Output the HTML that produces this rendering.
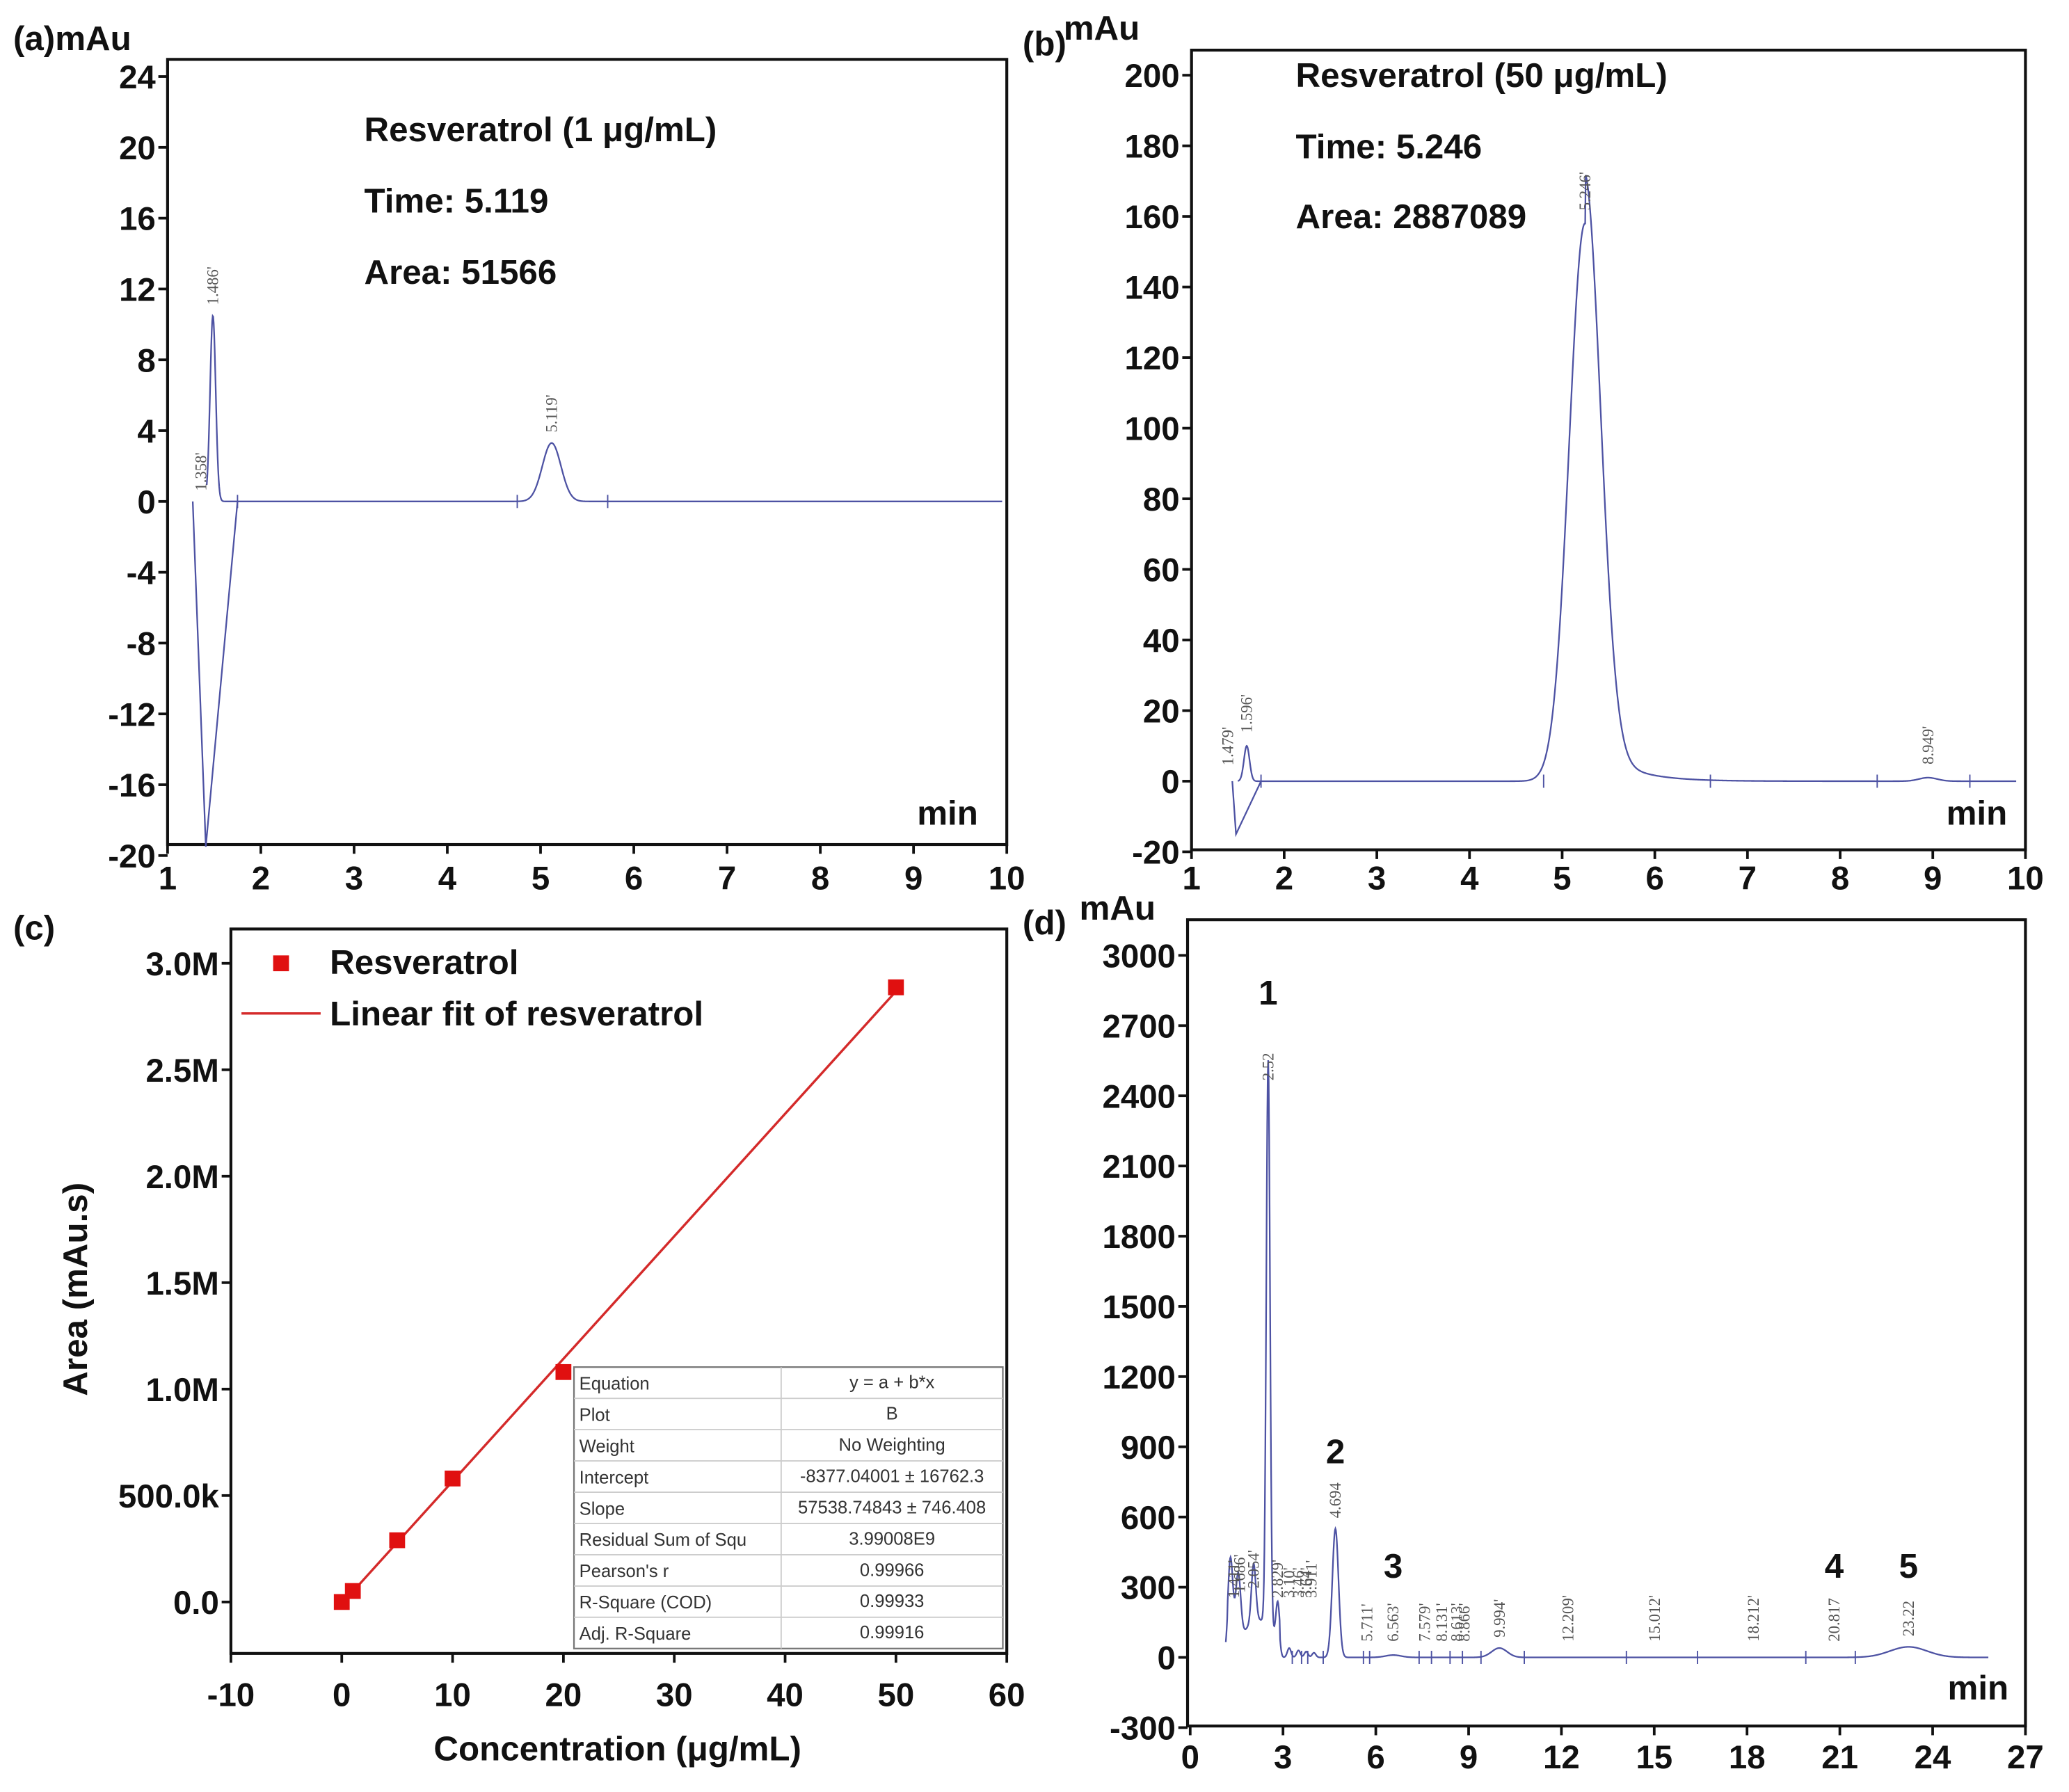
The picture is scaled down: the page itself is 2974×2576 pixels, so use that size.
<!DOCTYPE html>
<html><head><meta charset="utf-8"><style>
html,body{margin:0;padding:0;background:#fff;}
svg{display:block;}
text{font-family:"Liberation Sans",Arial,sans-serif;}
.tk{font-weight:bold;font-size:25px;fill:#111;}
.ann{font-weight:bold;font-size:26px;fill:#111;}
.pl{font-family:"Liberation Serif",serif;font-size:12px;fill:#555;}
.tb{font-size:13.5px;fill:#333;}
</style></head><body>
<svg id="fig" xmlns="http://www.w3.org/2000/svg" width="2974" height="2576" viewBox="0 0 1568 1358" preserveAspectRatio="none">
<g id="pa"></g>
<g id="pb"></g>
<g id="pc"></g>
<g id="pd"></g>
</svg>
<script>
// ---- Panel (a) data ----
const aPeakTimes = [1.486, 5.119];
const aPeakHeights = [10.5, 3.3];
const aPeakWidths = [0.03, 0.1];
const aPeakLabels = ["1.486'", "5.119'"];
const aDipTimes = [1.27, 1.41, 1.75];
const aDipValues = [0, -19.5, 0];
const aYTicks = [24,20,16,12,8,4,0,-4,-8,-12,-16,-20];
const aXTicks = [1,2,3,4,5,6,7,8,9,10];
// ---- Panel (b) data ----
const bPeakTimes = [1.596, 5.246, 8.949];
const bPeakHeights = [10, 158, 1];
const bPeakWidths = [0.03, 0.17, 0.1];
const bTailHeight = 14;
const bPeakLabels = ["1.596'", "5.246'", "8.949'"];
const bDipTimes = [1.44, 1.48, 1.75];
const bDipValues = [0, -15, 0];
const bYTicks = [200,180,160,140,120,100,80,60,40,20,0,-20];
const bXTicks = [1,2,3,4,5,6,7,8,9,10];
// ---- Panel (c) data ----
const cConc = [0, 1, 5, 10, 20, 50];
const cArea = [0, 51566, 290000, 580000, 1080000, 2887089];
const cIntercept = -8377.04;
const cSlope = 57538.75;
const cXTicks = [-10,0,10,20,30,40,50,60];
const cYTicks = [0,500000,1000000,1500000,2000000,2500000,3000000];
const cYTickLabels = ["0.0","500.0k","1.0M","1.5M","2.0M","2.5M","3.0M"];
const cTableKeys = ["Equation","Plot","Weight","Intercept","Slope","Residual Sum of Squ","Pearson's r","R-Square (COD)","Adj. R-Square"];
const cTableVals = ["y = a + b*x","B","No Weighting","-8377.04001 ± 16762.3","57538.74843 ± 746.408","3.99008E9","0.99966","0.99933","0.99916"];
// ---- Panel (d) data ----
const dPeakTimes = [1.3, 1.55, 2.05, 2.52, 2.83, 3.2, 3.5, 3.75, 4.0, 4.694, 6.563, 9.994, 23.22];
const dPeakHeights = [380, 280, 250, 2420, 170, 40, 30, 25, 20, 550, 10, 40, 45];
const dPeakWidths = [0.08, 0.08, 0.07, 0.06, 0.06, 0.06, 0.06, 0.06, 0.06, 0.1, 0.25, 0.25, 0.6];
const dHumpTimes = [1.9, 2.4];
const dHumpHeights = [90, 95];
const dHumpWidths = [0.5, 0.4];
const dLabelTimes = [1.411, 1.6, 2.054, 2.52, 2.829, 3.2, 3.5, 3.75, 3.911, 4.694, 5.711, 6.563, 7.579, 8.131, 8.613, 8.866, 9.994, 12.209, 15.012, 18.212, 20.817, 23.22];
const dLabelTexts = ["1.411'", "1.686'", "2.054'", "2.52", "2.829'", "3.10'", "3.46'", "3.64'", "3.911'", "4.694", "5.711'", "6.563'", "7.579'", "8.131'", "8.613'", "8.866'", "9.994'", "12.209'", "15.012'", "18.212'", "20.817", "23.22"];
const dYTicks = [3000,2700,2400,2100,1800,1500,1200,900,600,300,0,-300];
const dXTicks = [0,3,6,9,12,15,18,21,24,27];
const dCompNums = ["1","2","3","4","5"];
const dCompTimes = [2.52, 4.694, 6.563, 20.817, 23.22];
const dCompY = [2790, 830, 340, 340, 340];

const NS = "http://www.w3.org/2000/svg";
function mk(parent, tag, attrs, txt){
  const e = document.createElementNS(NS, tag);
  for (const k in attrs) e.setAttribute(k, attrs[k]);
  if (txt !== undefined) e.textContent = txt;
  parent.appendChild(e); return e;
}
function lin(d0,d1,r0,r1){ return v => r0 + (v-d0)*(r1-r0)/(d1-d0); }
function gsum(t, T, H, W){ let s=0; for(let i=0;i<T.length;i++){ const z=(t-T[i])/W[i]; s+=H[i]*Math.exp(-0.5*z*z);} return s; }

function frame(g, L, T, R, B, name){
  const r = mk(g,'rect',{x:L,y:T,width:R-L,height:B-T,fill:'none',stroke:'#111','stroke-width':2.2});
  
  
}
function yAxis(g, ticks, labels, y, L){
  ticks.forEach((v,i)=>{
    const yy = y(v);
    const tl = mk(g,'line',{x1:L-7,x2:L,y1:yy,y2:yy,stroke:'#111','stroke-width':2});
    
    
    const t = mk(g,'text',{x:L-9,y:yy+9,'text-anchor':'end','class':'tk'}, labels ? labels[i] : String(v));
    
    
  });
}
function xAxis(g, ticks, x, B, ly){
  ticks.forEach(v=>{
    const xx = x(v);
    const tl = mk(g,'line',{x1:xx,x2:xx,y1:B,y2:B+7,stroke:'#111','stroke-width':2});
    
    
    const t = mk(g,'text',{x:xx,y:ly,'text-anchor':'middle','class':'tk'}, String(v));
    
    
  });
}
function trace(g, t0, t1, x, y, f, name){
  let d=''; const n=1600;
  for(let i=0;i<=n;i++){ const t=t0+(t1-t0)*i/n; d+=(i?'L':'M')+x(t).toFixed(2)+','+y(f(t)).toFixed(2); }
  const p = mk(g,'path',{d:d,fill:'none',stroke:'#4d52a3','stroke-width':1.2});
  
  
}
function poly(g, T, V, x, y, name){
  const d = T.map((t,i)=>(i?'L':'M')+x(t).toFixed(2)+','+y(V[i]).toFixed(2)).join('');
  const p = mk(g,'path',{d:d,fill:'none',stroke:'#4d52a3','stroke-width':1.2});
  
  
}
function peakLabel(g, xx, yy, txt){
  const t = mk(g,'text',{x:0,y:0,'class':'pl',transform:`translate(${xx+4},${yy}) rotate(-90)`}, txt);
  
  
}
function basemarks(g, times, x, y0){
  times.forEach(t=>{ const m=mk(g,'line',{x1:x(t),x2:x(t),y1:y0-5,y2:y0+5,stroke:'#4d52a3','stroke-width':1});
      });
}

// ===== Panel (a) =====
(function(){
  const g = document.getElementById('pa');
  const L=127,R=763,T=45,B=640;
  const x = lin(1,10,127,763), y = lin(0,24,380,58);
  frame(g,L,T,R,B,'panel-a-frame');
  yAxis(g,aYTicks,null,y,L); xAxis(g,aXTicks,x,B,674);
  trace(g,1.42,9.95,x,y,t=>gsum(t,aPeakTimes,aPeakHeights,aPeakWidths),'chromatogram-a');
  poly(g,aDipTimes,aDipValues,x,y,'negative-dip-a');
  basemarks(g,[1.75,4.75,5.72],x,y(0));
  aPeakTimes.forEach((t,i)=>{ const h=gsum(t,aPeakTimes,aPeakHeights,aPeakWidths); peakLabel(g,x(t), y(h)-8, aPeakLabels[i]); });
  peakLabel(g, x(1.358), y(0)-8, "1.358'");
  const lab = mk(g,'text',{x:10,y:38,'class':'ann'},'(a)mAu');  
  [['Resveratrol (1 μg/mL)',107],['Time: 5.119',161],['Area: 51566',215]].forEach(a=>{
    const t=mk(g,'text',{x:276,y:a[1],'class':'ann'},a[0]);   });
  const m=mk(g,'text',{x:695,y:625,'class':'ann'},'min');  
})();

// ===== Panel (b) =====
(function(){
  const g = document.getElementById('pb');
  const L=903,R=1535,T=38,B=644;
  const x = lin(1,10,903,1535), y = lin(0,200,592,57);
  frame(g,L,T,R,B,'panel-b-frame');
  yAxis(g,bYTicks,null,y,L); xAxis(g,bXTicks,x,B,674);
  const f = t=>gsum(t,bPeakTimes,bPeakHeights,bPeakWidths)+ (t>5.25? bTailHeight*Math.exp(-(t-5.25)/0.35):0);
  trace(g,1.50,9.9,x,y,f,'chromatogram-b');
  poly(g,bDipTimes,bDipValues,x,y,'negative-dip-b');
  basemarks(g,[1.75,4.8,6.6,8.4,9.4],x,y(0));
  bPeakTimes.forEach((t,i)=>{ peakLabel(g,x(t), y(f(t))-10, bPeakLabels[i]); });
  peakLabel(g, x(1.479)-6, y(0)-12, "1.479'");
  const l1=mk(g,'text',{x:775,y:42,'class':'ann'},'(b)');  
  const l2=mk(g,'text',{x:806,y:30,'class':'ann'},'mAu');  
  [['Resveratrol (50 μg/mL)',66],['Time: 5.246',120],['Area: 2887089',173]].forEach(a=>{
    const t=mk(g,'text',{x:982,y:a[1],'class':'ann'},a[0]);   });
  const m=mk(g,'text',{x:1475,y:625,'class':'ann'},'min');  
})();

// ===== Panel (c) =====
(function(){
  const g = document.getElementById('pc');
  const L=175,R=763,T=704,B=1253;
  const x = lin(-10,60,175,763), y = lin(0,3000000,1214,730);
  frame(g,L,T,R,B,'panel-c-frame');
  yAxis(g,cYTicks,cYTickLabels,y,L); xAxis(g,cXTicks,x,B,1293);
  const fl = mk(g,'line',{x1:x(0),y1:y(cIntercept),x2:x(50),y2:y(cIntercept+cSlope*50),stroke:'#d42a2a','stroke-width':1.8});
   
  cConc.forEach((c,i)=>{ const s=mk(g,'rect',{x:x(c)-6,y:y(cArea[i])-6,width:12,height:12,fill:'#e01010'});
      });
  const ls=mk(g,'rect',{x:207,y:724,width:12,height:12,fill:'#e01010'});  
  const lt=mk(g,'text',{x:250,y:738,'class':'ann','font-size':'27'},'Resveratrol');  
  const ll=mk(g,'line',{x1:183,x2:243,y1:768,y2:768,stroke:'#d42a2a','stroke-width':1.8});  
  const lt2=mk(g,'text',{x:250,y:777,'class':'ann','font-size':'27'},'Linear fit of resveratrol');  
  const TX=435, TR=760, TY=1036, rh=23.7, cd=592;
  const tb = mk(g,'g',{});  
  mk(tb,'rect',{x:TX,y:TY,width:TR-TX,height:rh*9,fill:'#fff',stroke:'#777','stroke-width':1.2});
  mk(tb,'line',{x1:cd,x2:cd,y1:TY,y2:TY+rh*9,stroke:'#ccc','stroke-width':1});
  cTableKeys.forEach((k,i)=>{
    if(i>0) mk(tb,'line',{x1:TX,x2:TR,y1:TY+rh*i,y2:TY+rh*i,stroke:'#ccc','stroke-width':1});
    const a=mk(tb,'text',{x:TX+4,y:TY+rh*i+17,'class':'tb'},k);  
    const b=mk(tb,'text',{x:676,y:TY+rh*i+16,'class':'tb','text-anchor':'middle'},cTableVals[i]);  
  });
  const l=mk(g,'text',{x:10,y:712,'class':'ann','font-size':'28'},'(c)');  
  const yt=mk(g,'text',{x:0,y:0,'class':'ann','font-size':'31','text-anchor':'middle',transform:'translate(66,977) rotate(-90)'},'Area (mAu.s)');  
  const xt=mk(g,'text',{x:468,y:1334,'class':'ann','font-size':'31','text-anchor':'middle'},'Concentration (μg/mL)');  
})();

// ===== Panel (d) =====
(function(){
  const g = document.getElementById('pd');
  const L=900,R=1535,T=697,B=1308;
  const x = lin(0,27,902,1535), y = lin(0,3000,1256,724);
  frame(g,L,T,R,B,'panel-d-frame');
  yAxis(g,dYTicks,null,y,L); xAxis(g,dXTicks,x,B,1340);
  trace(g,1.15,25.8,x,y,t=>gsum(t,dPeakTimes,dPeakHeights,dPeakWidths)+ (t<2.9? gsum(t,dHumpTimes,dHumpHeights,dHumpWidths):0)*(t<1.2?0:1) ,'chromatogram-d');
  basemarks(g,[3.3,3.6,3.8,4.3,5.6,5.8,7.4,7.8,8.4,8.8,9.4,10.8,14.1,16.4,19.9,21.5],x,y(0));
  dLabelTimes.forEach((t,i)=>{
    const f = gsum(t,dPeakTimes,dPeakHeights,dPeakWidths);
    let yy = y(Math.max(f,0)) - 8;
    if (t > 5 && yy > y(0)-12) yy = y(0)-12;
    if (t <= 5 && yy > y(0)-45) yy = y(0)-45;
    peakLabel(g, x(t), yy, dLabelTexts[i]);
  });
  dCompNums.forEach((n,i)=>{ const t=mk(g,'text',{x:x(dCompTimes[i]),y:y(dCompY[i]),'class':'ann','text-anchor':'middle'},n);
      });
  const l1=mk(g,'text',{x:775,y:708,'class':'ann'},'(d)');  
  const l2=mk(g,'text',{x:818,y:697,'class':'ann'},'mAu');  
  const m=mk(g,'text',{x:1476,y:1288,'class':'ann'},'min');  
})();
</script>
</body></html>
